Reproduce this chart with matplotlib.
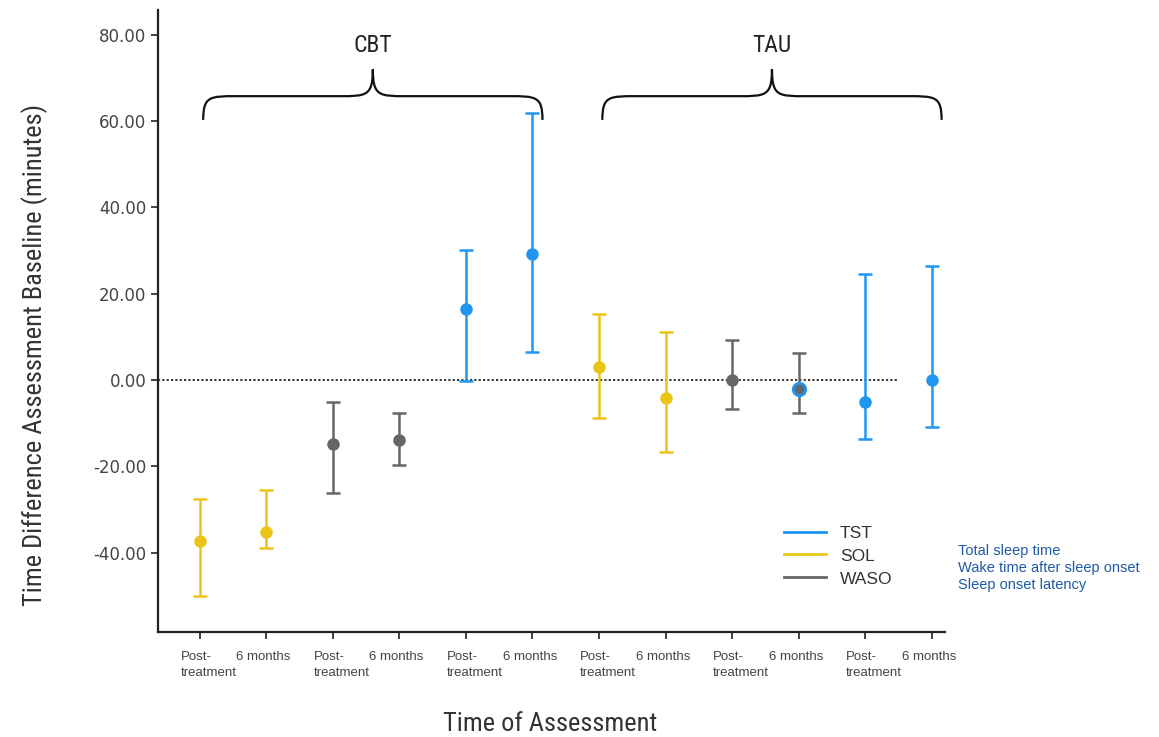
import numpy as np
import matplotlib.pyplot as plt
from matplotlib import font_manager
from matplotlib.path import Path
from matplotlib.patches import PathPatch
from matplotlib.lines import Line2D

# values (minutes, change from baseline)
groups = ['CBT', 'TAU']
timepoints = ['Post-\ntreatment', '6 months']
measure_order = ['SOL', 'WASO', 'TST']

means = [-37.2, -35.3, -14.8, -13.8, 16.5, 29.2,
         3.1, -4.2, 0.0, -2.0, -5.1, 0.0]
upper = [-27.5, -25.6, -5.0, -7.7, 30.2, 62.0,
         15.3, 11.1, 9.2, 6.2, 24.5, 26.5]
lower = [-50.0, -39.0, -26.3, -19.6, -0.2, 6.4,
         -8.7, -16.6, -6.6, -7.7, -13.7, -10.9]

colors = {'TST': '#2196f0', 'SOL': '#ebc418', 'WASO': '#666666'}
legend_order = ['TST', 'SOL', 'WASO']
full_names = ['Total sleep time', 'Wake time after sleep onset', 'Sleep onset latency']

# narrow face for titles if one is there
installed = {f.name for f in font_manager.fontManager.ttflist}
narrow = 'Liberation Sans'
for cand in ['Roboto Condensed', 'Liberation Sans Narrow']:
    if cand in installed:
        narrow = cand
        break
cond = [narrow, 'DejaVu Sans']
plain = ['Liberation Sans', 'DejaVu Sans']
plt.rcParams['font.family'] = plain

fig = plt.figure(figsize=(11.59, 7.37), dpi=100)
ax = fig.add_axes([0.1363, 0.1425, 0.679, 0.8435])

x = np.arange(len(means))
labels = [m for g in groups for m in measure_order for t in timepoints]
for i in x:
    c = colors[labels[i]]
    ax.errorbar(x[i], means[i], yerr=[[means[i] - lower[i]], [upper[i] - means[i]]],
                fmt='none', ecolor=c, elinewidth=1.8, capsize=5, capthick=1.8, zorder=3)
    edge = c
    if i == 9:
        # blue ring with grey centre in the original
        edge = colors['TST']
    ax.plot(x[i], means[i], 'o', color=c, markeredgecolor=edge,
            markeredgewidth=2 if i == 9 else 0, markersize=9, zorder=4)

# dotted zero line
ax.plot([-0.63, 10.5], [0, 0], linestyle=(0, (1.2, 1.2)), color='#222222', lw=1.3, zorder=2)

ax.set_xlim(-0.63, 11.2)
ax.set_ylim(-58.4, 85.7)
yt = [-40, -20, 0, 20, 40, 60, 80]
ax.set_yticks(yt)
ax.set_yticklabels(['%.2f' % v for v in yt], fontsize=12, color='#444444',
                   family=['DejaVu Sans'])
ax.set_xticks(x)
ax.set_xticklabels([])
# tick labels placed by hand: "Post-" block sits left of its tick
xt_text = [t for g in groups for m in measure_order for t in timepoints]
for i, t in enumerate(xt_text):
    if t.startswith('Post'):
        ax.annotate(t, xy=(x[i], 0), xycoords=('data', 'axes fraction'),
                    xytext=(-14, -14), textcoords='offset points', ha='left', va='top',
                    fontsize=9.5, color='#444444', linespacing=1.45)
    else:
        ax.annotate(t, xy=(x[i], 0), xycoords=('data', 'axes fraction'),
                    xytext=(-2, -14), textcoords='offset points', ha='center', va='top',
                    fontsize=9.5, color='#444444')
ax.tick_params(axis='both', direction='out', length=5, width=1.3, color='#333333')

for s in ['top', 'right']:
    ax.spines[s].set_visible(False)
for s in ['left', 'bottom']:
    ax.spines[s].set_linewidth(1.6)
    ax.spines[s].set_color('#222222')

ax.set_ylabel('Time Difference Assessment Baseline (minutes)', fontsize=19,
              color='#333333', family=cond)
ax.yaxis.set_label_coords(-0.14, 0.445)
ax.set_xlabel('Time of Assessment', fontsize=19, color='#333333', family=cond)
ax.xaxis.set_label_coords(0.498, -0.128)


def brace(ax, x0, x1, y_end, y_flat, y_tip):
    xm = (x0 + x1) / 2
    w = 0.25
    verts = [(x0, y_end),
             (x0, y_flat), (x0 + 0.1, y_flat), (x0 + w * 2, y_flat),
             (xm - w * 2, y_flat),
             (xm - 0.1, y_flat), (xm, y_flat), (xm, y_tip),
             (xm, y_flat), (xm + 0.1, y_flat), (xm + w * 2, y_flat),
             (x1 - w * 2, y_flat),
             (x1 - 0.1, y_flat), (x1, y_flat), (x1, y_end)]
    codes = [Path.MOVETO,
             Path.CURVE4, Path.CURVE4, Path.CURVE4,
             Path.LINETO,
             Path.CURVE4, Path.CURVE4, Path.CURVE4,
             Path.CURVE4, Path.CURVE4, Path.CURVE4,
             Path.LINETO,
             Path.CURVE4, Path.CURVE4, Path.CURVE4]
    ax.add_patch(PathPatch(Path(verts, codes), fill=False, lw=1.6,
                           edgecolor='#111111', clip_on=False, zorder=5))


n_per_group = len(measure_order) * len(timepoints)
for k, g in enumerate(groups):
    start = k * n_per_group
    end = start + n_per_group - 1
    brace(ax, x[start] + 0.05, x[end] + 0.15, 60.3, 65.8, 72)
    ax.text((x[start] + x[end]) / 2 + 0.1, 77.5, g, ha='center', va='center',
            fontsize=17, color='#222222', family=cond)

handles = [Line2D([0], [0], color=colors[m], lw=2) for m in legend_order]
ax.legend(handles, legend_order, loc='lower left', bbox_to_anchor=(0.776, 0.048),
          frameon=False, fontsize=12.5, handlelength=2.4, labelspacing=0.45,
          labelcolor='#333333')

for j, name in enumerate(full_names):
    fig.text(958 / 1159, 1 - (551 + 17 * j) / 737, name, fontsize=10.5,
             color='#1f5aa6', va='center')

fig.savefig('out.png', dpi=100)
